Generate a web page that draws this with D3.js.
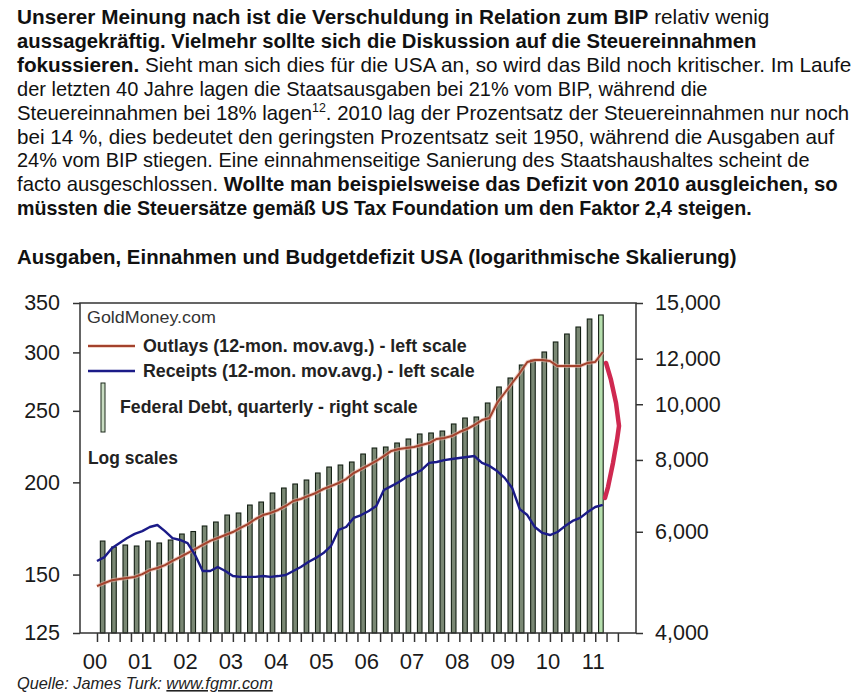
<!DOCTYPE html>
<html><head><meta charset="utf-8">
<script src="https://cdn.jsdelivr.net/npm/d3@7"></script>
<style>body{margin:0;background:#fff}</style>
</head><body>
<svg id="c" width="867" height="700"></svg>
<script>
// ---------- DATA ----------
const debtQuarters = ["2000Q1","2000Q2","2000Q3","2000Q4","2001Q1","2001Q2","2001Q3","2001Q4",
 "2002Q1","2002Q2","2002Q3","2002Q4","2003Q1","2003Q2","2003Q3","2003Q4",
 "2004Q1","2004Q2","2004Q3","2004Q4","2005Q1","2005Q2","2005Q3","2005Q4",
 "2006Q1","2006Q2","2006Q3","2006Q4","2007Q1","2007Q2","2007Q3","2007Q4",
 "2008Q1","2008Q2","2008Q3","2008Q4","2009Q1","2009Q2","2009Q3","2009Q4",
 "2010Q1","2010Q2","2010Q3","2010Q4","2011Q1"];
const federalDebt = [5781,5645,5690,5667,5781,5736,5805,5946,
 6006,6140,6239,6416,6468,6678,6759,7008,
 7149,7265,7382,7592,7776,7839,7934,8192,
 8391,8425,8561,8700,8876,8912,8982,9239,
 9463,9501,10049,10715,11108,11701,11939,12327,
 12831,13248,13624,14068,14297];

const lineMonths = [
 "2000-01","2000-03","2000-05","2000-07","2000-09","2000-11",
 "2001-01","2001-03","2001-05","2001-07","2001-09","2001-11",
 "2002-01","2002-03","2002-05","2002-07","2002-09","2002-11",
 "2003-01","2003-03","2003-05","2003-07","2003-09","2003-11",
 "2004-01","2004-03","2004-05","2004-07","2004-09","2004-11",
 "2005-01","2005-03","2005-05","2005-07","2005-09","2005-11",
 "2006-01","2006-03","2006-05","2006-07","2006-09","2006-11",
 "2007-01","2007-03","2007-05","2007-07","2007-09","2007-11",
 "2008-01","2008-03","2008-05","2008-07","2008-09","2008-11",
 "2009-01","2009-03","2009-05","2009-07","2009-09","2009-11",
 "2010-01","2010-03","2010-05","2010-07","2010-09","2010-11",
 "2011-01","2011-03"];
const outlays = [
 144.7,146.1,147.4,147.9,148.4,148.9,
 150.2,152.1,153.1,154.5,156.5,158.4,
 160.4,162.4,164.5,166.6,168.1,169.7,
 171.3,173.5,175.6,178.4,180.6,181.8,
 183.5,185.8,188.7,189.9,191.7,193.5,
 195.9,197.7,199.6,202.1,205.9,208.5,
 211.1,213.8,217.1,220.6,221.9,222.6,
 223.3,224.7,226.1,229.0,229.7,231.1,
 234.0,236.2,239.2,242.9,244.5,256.2,
 264.3,272.7,281.3,291.2,293.0,293.0,
 292.1,287.5,287.5,287.5,287.5,290.3,
 291.2,300.4];
const receipts = [
 156.5,158.4,163.0,165.5,168.1,170.3,
 171.8,174.0,175.1,171.8,168.1,167.1,
 165.5,159.4,151.7,151.7,153.6,151.7,
 149.3,148.9,148.9,148.9,149.3,148.9,
 149.3,149.8,151.7,153.6,156.0,158.0,
 160.4,164.0,172.4,174.0,179.0,180.6,
 182.9,185.8,195.3,197.7,200.2,203.4,
 205.3,207.9,212.5,213.1,214.4,215.1,
 215.8,216.5,217.1,212.5,210.5,207.2,
 202.8,196.5,184.0,180.6,174.0,170.8,
 169.7,171.3,174.5,177.3,179.0,182.3,
 185.2,186.4];

// deficit bracket (decimal year, left-scale value)
const gapDates  = [2011.238,2011.348,2011.459,2011.525,2011.481,2011.392,2011.282,2011.216];
const gapValues = [290.3,275.3,256.2,238.5,228.3,212.5,197.1,190.5];

const leftTicks  = [125,150,200,250,300,350];
const rightTicks = [4000,6000,8000,10000,12000,15000];
const yearTicks  = [2000,2001,2002,2003,2004,2005,2006,2007,2008,2009,2010,2011];
const yearLabels = ["00","01","02","03","04","05","06","07","08","09","10","11"];

const headerLines = [
 [["Unserer Meinung nach ist die Verschuldung in Relation zum BIP",1],[" relativ wenig",0]],
 [["aussagekräftig. Vielmehr sollte sich die Diskussion auf die Steuereinnahmen",1]],
 [["fokussieren.",1],[" Sieht man sich dies für die USA an, so wird das Bild noch kritischer. Im Laufe",0]],
 [["der letzten 40 Jahre lagen die Staatsausgaben bei 21% vom BIP, während die",0]],
 [["Steuereinnahmen bei 18% lagen",0],["12",2],[". 2010 lag der Prozentsatz der Steuereinnahmen nur noch",0]],
 [["bei 14 %, dies bedeutet den geringsten Prozentsatz seit 1950, während die Ausgaben auf",0]],
 [["24% vom BIP stiegen. Eine einnahmenseitige Sanierung des Staatshaushaltes scheint de",0]],
 [["facto ausgeschlossen. ",0],["Wollte man beispielsweise das Defizit von 2010 ausgleichen, so",1]],
 [["müssten die Steuersätze gemäß US Tax Foundation um den Faktor 2,4 steigen.",1]]
];
const headerWidths = [753,740,835,691,833,818,793,821,735];
const chartTitle = "Ausgaben, Einnahmen und Budgetdefizit USA (logarithmische Skalierung)";
const sourceLabel = "Quelle: James Turk: ";
const sourceLink = "www.fgmr.com";
const brandLabel = "GoldMoney.com";
const legendOutlays = "Outlays (12-mon. mov.avg.) - left scale";
const legendReceipts = "Receipts (12-mon. mov.avg.) - left scale";
const legendDebt = "Federal Debt, quarterly - right scale";
const logLabel = "Log scales";

// ---------- DRAW ----------
const FONT = "'Liberation Sans', Arial, Helvetica, sans-serif";
const svg = d3.select("#c").style("font-family", FONT);

function fitText(sel, x, y, target) {
  const w = sel.node().getComputedTextLength();
  sel.attr("x", 0).attr("y", 0)
     .attr("transform", `translate(${x},${y}) scale(${target / w},1)`);
}

// header
headerLines.forEach((segs, i) => {
  const t = svg.append("text").attr("font-size", 20.5).attr("fill", "#111");
  segs.forEach(([s, b]) => {
    if (b === 2) {
      t.append("tspan").attr("font-size", 12.5).attr("dy", -8).text(s);
    } else {
      const ts = t.append("tspan").attr("font-weight", b ? "bold" : "normal").text(s);
      if (i === 4 && s.startsWith(".")) ts.attr("dy", 8);
    }
  });
  fitText(t, 17, 24 + i * 23.9, headerWidths[i]);
});
const ttl = svg.append("text").attr("font-size", 20.5).attr("font-weight", "bold")
  .attr("fill", "#111").text(chartTitle);
fitText(ttl, 17, 264, 720);

// scales
const L = 80, R = 636, T = 303, B = 633;
const parseMonth = s => { const [y, m] = s.split("-").map(Number); return y + (m - 1) / 12; };
const parseQuarter = s => +s.slice(0, 4) + (+s.slice(5) - 1) / 4 + 0.125;
const x = d3.scaleLinear().domain([1999.625, 2011.9]).range([L, R]);
const yL = d3.scaleLog().domain([125, 350]).range([B, T]);
const yR = d3.scaleLog().domain([4000, 15000]).range([B, T]);

// bars
const barW = 4.6;
svg.append("g").selectAll("rect").data(federalDebt).join("rect")
  .attr("x", (d, i) => x(parseQuarter(debtQuarters[i])) - barW / 2)
  .attr("y", d => yR(d))
  .attr("width", barW)
  .attr("height", d => B - yR(d))
  .attr("fill", (d, i) => i === federalDebt.length - 1 ? "#b6dfae" : "#7a8874")
  .attr("stroke", "#142014").attr("stroke-width", 1.1);

// lines
const line = d3.line().x(d => x(d[0])).y(d => yL(d[1]));
const outData = lineMonths.map((m, i) => [parseMonth(m), outlays[i]]);
const recData = lineMonths.map((m, i) => [parseMonth(m), receipts[i]]);
svg.append("path").datum(outData).attr("d", line).attr("fill", "none")
  .attr("stroke", "#e9b8a8").attr("stroke-width", 4).attr("opacity", 0.6);
svg.append("path").datum(outData).attr("d", line).attr("fill", "none")
  .attr("stroke", "#a3422d").attr("stroke-width", 2).attr("stroke-linejoin", "round");
svg.append("path").datum(recData).attr("d", line).attr("fill", "none")
  .attr("stroke", "#1b1b88").attr("stroke-width", 2.4).attr("stroke-linejoin", "round");

// deficit bracket
svg.append("path").datum(gapDates.map((d, i) => [d, gapValues[i]]))
  .attr("d", line).attr("fill", "none").attr("stroke", "#cf2950")
  .attr("stroke-width", 4.5).attr("stroke-linecap", "round").attr("stroke-linejoin", "round");

// frame
svg.append("rect").attr("x", L).attr("y", T).attr("width", R - L).attr("height", B - T)
  .attr("fill", "none").attr("stroke", "#333").attr("stroke-width", 1.5);

// axes
const axL = svg.append("g").attr("transform", `translate(${L},0)`)
  .call(d3.axisLeft(yL).tickValues(leftTicks).tickFormat(d3.format("d")).tickSize(7).tickPadding(13));
const axR = svg.append("g").attr("transform", `translate(${R},0)`)
  .call(d3.axisRight(yR).tickValues(rightTicks).tickFormat(d3.format(",")).tickSize(7).tickPadding(12));
const qTicks = d3.range(0, 47).map(i => 2000 + i * 0.25);
const axB = svg.append("g").attr("transform", `translate(0,${B})`)
  .call(d3.axisBottom(x).tickValues(qTicks).tickFormat("").tickSize(9));
[axL, axR, axB].forEach(g => {
  g.select(".domain").remove();
  g.selectAll(".tick line").attr("stroke", "#333").attr("stroke-width", 1.5);
  g.selectAll("text").attr("font-family", FONT).attr("fill", "#1a1a1a");
});
axL.selectAll("text").attr("font-size", 21.5);
axR.selectAll("text").attr("font-size", 21.5);
svg.append("g").selectAll("text").data(yearTicks).join("text")
  .attr("x", d => x(d) - 2).attr("y", 669).attr("text-anchor", "middle")
  .attr("font-size", 22).attr("fill", "#1a1a1a").text((d, i) => yearLabels[i]);

// legend
const brand = svg.append("text").attr("font-size", 17).attr("fill", "#333").text(brandLabel);
fitText(brand, 87, 323, 129);
svg.append("line").attr("x1", 88).attr("x2", 135).attr("y1", 346).attr("y2", 346)
  .attr("stroke", "#e9b8a8").attr("stroke-width", 4).attr("opacity", 0.6);
svg.append("line").attr("x1", 88).attr("x2", 135).attr("y1", 346).attr("y2", 346)
  .attr("stroke", "#a3422d").attr("stroke-width", 2);
const lo = svg.append("text").attr("font-size", 17.5).attr("font-weight", "bold").attr("fill", "#222").text(legendOutlays);
fitText(lo, 143, 352, 324);
svg.append("line").attr("x1", 88).attr("x2", 135).attr("y1", 371).attr("y2", 371)
  .attr("stroke", "#1b1b88").attr("stroke-width", 2.4);
const lr = svg.append("text").attr("font-size", 17.5).attr("font-weight", "bold").attr("fill", "#222").text(legendReceipts);
fitText(lr, 143, 377, 332);
svg.append("rect").attr("x", 101).attr("y", 383).attr("width", 4).attr("height", 49)
  .attr("fill", "#c9dcc2").attr("stroke", "#1d2a1d").attr("stroke-width", 1);
const ld = svg.append("text").attr("font-size", 17.5).attr("font-weight", "bold").attr("fill", "#222").text(legendDebt);
fitText(ld, 120, 413, 298);
const ls = svg.append("text").attr("font-size", 17.5).attr("font-weight", "bold").attr("fill", "#222").text(logLabel);
fitText(ls, 88, 464, 90);

// source
const src = svg.append("text").attr("font-size", 16).attr("font-style", "italic").attr("fill", "#222");
src.append("tspan").text(sourceLabel);
src.append("tspan").attr("text-decoration", "underline").text(sourceLink);
fitText(src, 17, 689, 256);
</script>
</body></html>
